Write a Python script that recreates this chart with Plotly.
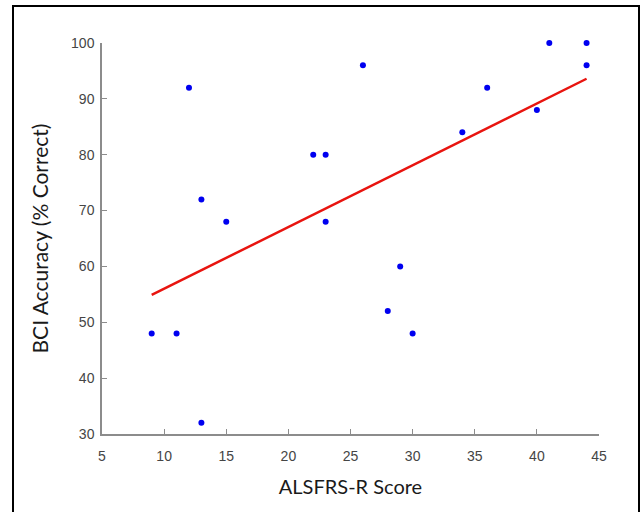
import plotly.graph_objects as go

alsfrs_score = [9, 11, 12, 13, 13, 15, 22, 23, 23, 26, 28, 29, 30, 34, 36, 40, 41, 44, 44]
bci_accuracy = [48, 48, 92, 72, 32, 68, 80, 80, 68, 96, 52, 60, 48, 84, 92, 88, 100, 100, 96]
fit_x = [9, 44]
fit_y = [54.9, 93.6]
x_ticks = [5, 10, 15, 20, 25, 30, 35, 40, 45]
y_ticks = [30, 40, 50, 60, 70, 80, 90, 100]

L, R, T, B = 102, 43, 43, 78
W, H = 642, 512
pw, ph = W - L - R, H - T - B

def px(x):
    return (x - L) / pw

def py(y):
    return (H - B - y) / ph

fig = go.Figure()
fig.add_trace(go.Scatter(x=fit_x, y=fit_y, mode="lines",
                         line=dict(color="#e8140f", width=2.5), showlegend=False))
fig.add_trace(go.Scatter(x=alsfrs_score, y=bci_accuracy, mode="markers", cliponaxis=False,
                         marker=dict(color="#0000f0", size=6), showlegend=False))

axis_common = dict(
    showgrid=False, zeroline=False, showline=True, linecolor="#8c8c8c", linewidth=1.5,
    ticks="inside", ticklen=5, tickcolor="#8c8c8c", tickwidth=1.2,
    tickfont=dict(family="Liberation Sans, Arial", size=14, color="#454545"),
)
fig.update_xaxes(range=[5, 45], tickvals=x_ticks, autorange=False, ticklabelstandoff=8,
                 title=dict(text="ALSFRS-R Score", font=dict(family="Lato, Carlito, sans-serif", size=20, color="#1a1a1a"), standoff=17),
                 **axis_common)
fig.update_yaxes(range=[30, 100], tickvals=y_ticks, autorange=False, ticklabelstandoff=3,
                 title=dict(text="BCI Accuracy (% Correct)", font=dict(family="Lato, Carlito, sans-serif", size=21, color="#1a1a1a"), standoff=17),
                 **axis_common)

fig.add_shape(type="rect", xref="paper", yref="paper",
              x0=px(13), x1=px(639), y0=py(530), y1=py(6),
              line=dict(color="black", width=2), fillcolor="rgba(0,0,0,0)", layer="above")

fig.update_layout(width=W, height=H, margin=dict(l=L, r=R, t=T, b=B),
                  plot_bgcolor="white", paper_bgcolor="white")
fig.write_html("out.html", config={"displayModeBar": False},
               post_script="document.body.style.margin='0';document.body.style.overflow='hidden';")
